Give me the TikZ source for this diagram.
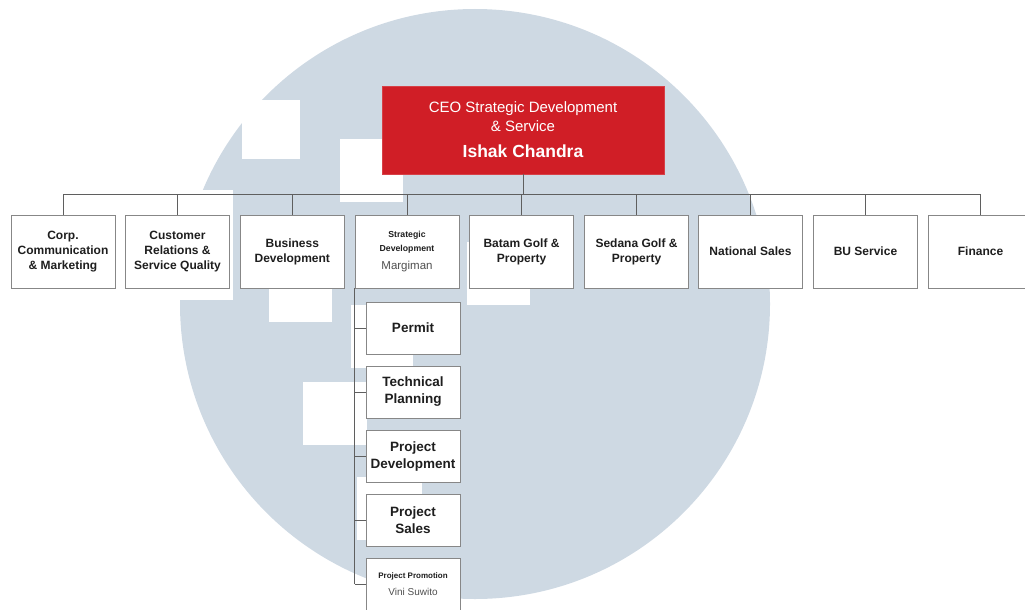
\documentclass[tikz,border=0pt]{standalone}
\usepackage{fontspec}
\setmainfont{Liberation Sans}
\definecolor{bgc}{RGB}{206,217,227}
\definecolor{ceored}{RGB}{208,30,38}
\definecolor{boxline}{RGB}{135,135,135}
\definecolor{conn}{RGB}{95,95,95}
\definecolor{txt}{RGB}{30,30,30}
\definecolor{subtxt}{RGB}{80,80,80}
\tikzset{
  unit/.style={draw=boxline, line width=0.8pt, fill=white, minimum width=104pt, minimum height=73pt,
    inner sep=0pt, align=center, text=txt, font=\bfseries\fontsize{12}{15}\selectfont},
  subunit/.style={draw=boxline, line width=0.8pt, fill=white, minimum width=94pt, minimum height=52pt,
    inner sep=0pt, align=center, text=txt, font=\bfseries\fontsize{13.5}{17}\selectfont},
  ceobox/.style={draw=ceored!85!white, line width=0.8pt, fill=ceored, minimum width=282pt, minimum height=88pt,
    inner sep=0pt, align=center, text=white, font=\fontsize{15}{19}\selectfont},
  link/.style={draw=conn, line width=0.7pt},
  wm/.style={fill=white, draw=none}
}
\begin{document}
\begin{tikzpicture}[x=1pt,y=-1pt]
\useasboundingbox (0,0) rectangle (1025,610);
% watermark
\fill[bgc] (475,304) circle (295);
\fill[wm] (242,100) rectangle (300,159);
\fill[wm] (340,139) rectangle (403,202);
\fill[wm] (176,190) rectangle (233,300);
\fill[wm] (269,288) rectangle (332,322);
\fill[wm] (351,305) rectangle (413,368);
\fill[wm] (303,382) rectangle (367,445);
\fill[wm] (467,242) rectangle (530,305);
\fill[wm] (357,477) rectangle (422,540);

% CEO
\node[ceobox] (ceo) at (523,130) {CEO Strategic Development\\\& Service\\[7pt]{\bfseries\fontsize{17.5}{20}\selectfont Ishak Chandra}};

% units
\node[unit] (corp) at (63,251.5) {Corp.\\Communication\\\& Marketing};
\node[unit] (cust) at (177.5,251.5) {Customer\\Relations \&\\Service Quality};
\node[unit] (bus) at (292.3,251.5) {Business\\Development};
\node[unit, font=\bfseries\fontsize{8.7}{14}\selectfont] (strat) at (407,251.5) {Strategic\\Development\\[4pt]{\mdseries\color{subtxt}\fontsize{11.5}{14}\selectfont Margiman}};
\node[unit] (batam) at (521.5,251.5) {Batam Golf \&\\Property};
\node[unit] (sedana) at (636.5,251.5) {Sedana Golf \&\\Property};
\node[unit] (nat) at (750.5,251.5) {National Sales};
\node[unit] (bu) at (865.5,251.5) {BU Service};
\node[unit] (fin) at (980.5,251.5) {Finance};

% bus
\coordinate (busL) at (63,194);
\coordinate (busR) at (980.5,194);
\draw[link] (ceo.south) -- (ceo.south |- busL);
\draw[link] (busL) -- (busR);
\foreach \n in {corp,cust,bus,strat,batam,sedana,nat,bu,fin}
  \draw[link] (\n.north) -- (\n.north |- busL);

% sub units
\node[subunit] (permit) at (413,328) {Permit};
\node[subunit] (tech) at (413,392) {Technical\\Planning};
\node[subunit] (pdev) at (413,456.5) {Project\\Development};
\node[subunit] (psales) at (413,520.5) {Project\\Sales};
\node[subunit, font=\bfseries\fontsize{8}{12}\selectfont] (promo) at (413,584) {Project Promotion\\[5pt]{\mdseries\color{subtxt}\fontsize{10}{12}\selectfont Vini Suwito}};

\draw[link] (strat.south west) -- (strat.south west |- promo.west);
\foreach \n in {permit,tech,pdev,psales,promo}
  \draw[link] (strat.south west |- \n.west) -- (\n.west);
\end{tikzpicture}
\end{document}
